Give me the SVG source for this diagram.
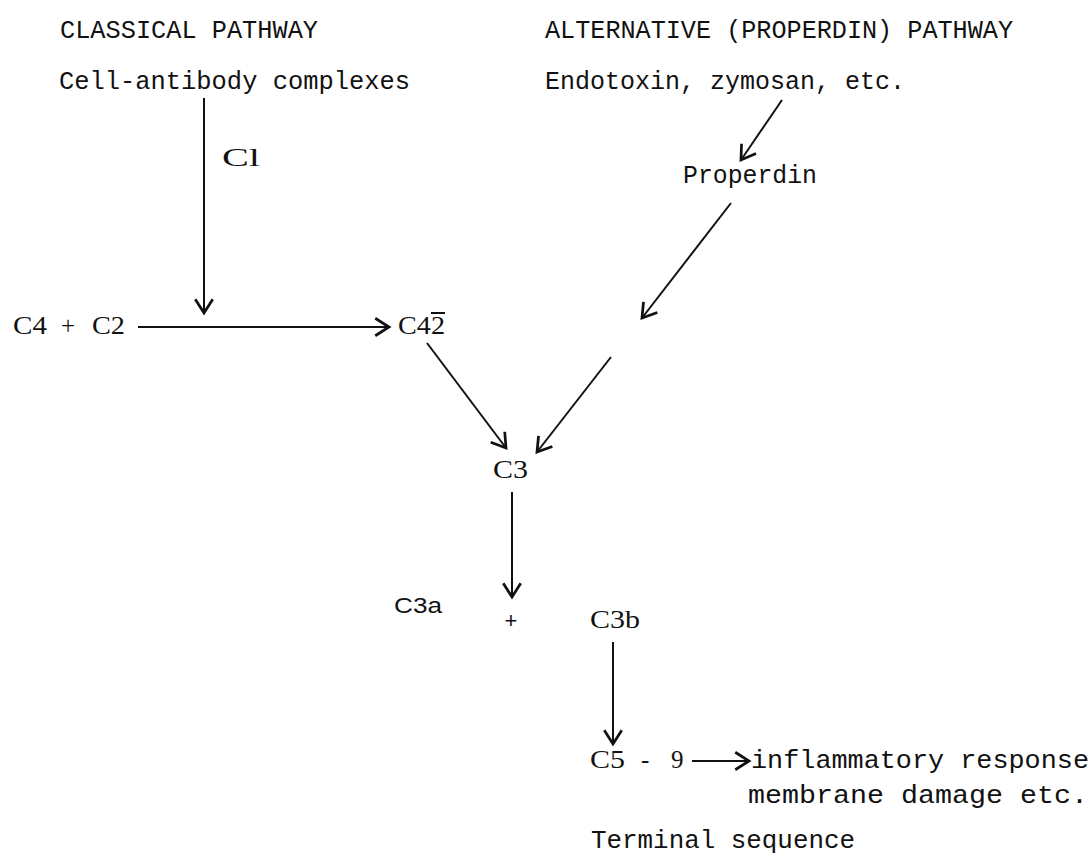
<svg xmlns="http://www.w3.org/2000/svg" width="1092" height="857" viewBox="0 0 1092 857">
<style>
.tw{font-family:"Liberation Mono","Courier New",monospace;font-size:26px;fill:#111}
.sr{font-family:"Liberation Serif","Times New Roman",serif;font-size:25px;fill:#111}
.ss{font-family:"Liberation Sans",Arial,sans-serif;font-size:22px;fill:#111}
.ln{stroke:#111;stroke-width:2;fill:none;marker-end:url(#ah)}
</style>
<defs>
<marker id="ah" markerUnits="userSpaceOnUse" markerWidth="20" markerHeight="20" viewBox="-12 -8 14 16" refX="0" refY="0" orient="auto">
<path d="M-11,-7 L0,0 L-11,7" fill="none" stroke="#111" stroke-width="2.2"/>
</marker>
</defs>
<rect width="1092" height="857" fill="#fff"/>
<g id="classical-title"><text class="tw" x="60" y="38" textLength="258" lengthAdjust="spacingAndGlyphs">CLASSICAL PATHWAY</text></g>
<g id="cell-antibody"><text class="tw" x="59" y="89" textLength="351" lengthAdjust="spacingAndGlyphs">Cell-antibody complexes</text></g>
<g id="alt-title"><text class="tw" x="545" y="38" textLength="468" lengthAdjust="spacingAndGlyphs">ALTERNATIVE (PROPERDIN) PATHWAY</text></g>
<g id="endotoxin"><text class="tw" x="545" y="89" textLength="360" lengthAdjust="spacingAndGlyphs">Endotoxin, zymosan, etc.</text></g>
<g id="c1"><text class="sr" x="222" y="166" textLength="38" lengthAdjust="spacingAndGlyphs">Cl</text></g>
<g id="properdin"><text class="tw" x="683" y="183" textLength="134" lengthAdjust="spacingAndGlyphs">Properdin</text></g>
<g id="c4c2"><text class="sr" x="13" y="334"><tspan textLength="34" lengthAdjust="spacingAndGlyphs">C4</tspan><tspan x="61">+</tspan><tspan x="92" textLength="33" lengthAdjust="spacingAndGlyphs">C2</tspan></text></g>
<g id="c42"><text class="sr" x="398" y="334" textLength="47" lengthAdjust="spacingAndGlyphs">C42</text><line x1="431" y1="313" x2="445" y2="313" stroke="#111" stroke-width="2"/></g>
<g id="c3"><text class="sr" x="493" y="478" textLength="35" lengthAdjust="spacingAndGlyphs">C3</text></g>
<g id="c3a"><text class="ss" x="394" y="613" textLength="48" lengthAdjust="spacingAndGlyphs">C3a</text></g>
<g id="plus"><text class="ss" x="511" y="628" text-anchor="middle" font-size="18">+</text></g>
<g id="c3b"><text class="sr" x="590" y="628" textLength="50" lengthAdjust="spacingAndGlyphs">C3b</text></g>
<g id="c59"><text class="sr" x="590" y="768"><tspan textLength="35" lengthAdjust="spacingAndGlyphs">C5</tspan><tspan x="641">-</tspan><tspan x="671">9</tspan></text></g>
<g id="inflammatory"><text class="tw" x="751" y="768" textLength="338" lengthAdjust="spacingAndGlyphs">inflammatory response</text>
<text class="tw" x="748" y="803" textLength="340" lengthAdjust="spacingAndGlyphs">membrane damage etc.</text></g>
<g id="terminal"><text class="tw" x="591" y="848" textLength="264" lengthAdjust="spacingAndGlyphs">Terminal sequence</text></g>
<g id="connectors">
<line class="ln" x1="204" y1="98" x2="204" y2="313"/>
<line class="ln" x1="138" y1="327" x2="389" y2="327"/>
<line class="ln" x1="782" y1="100" x2="741" y2="160"/>
<line class="ln" x1="731" y1="203" x2="642" y2="318"/>
<line class="ln" x1="611" y1="357" x2="537" y2="452"/>
<line class="ln" x1="427" y1="343" x2="506" y2="448"/>
<line class="ln" x1="512" y1="492" x2="512" y2="597"/>
<line class="ln" x1="613" y1="642" x2="613" y2="744"/>
<line class="ln" x1="692" y1="761" x2="749" y2="761"/>
</g>
</svg>
